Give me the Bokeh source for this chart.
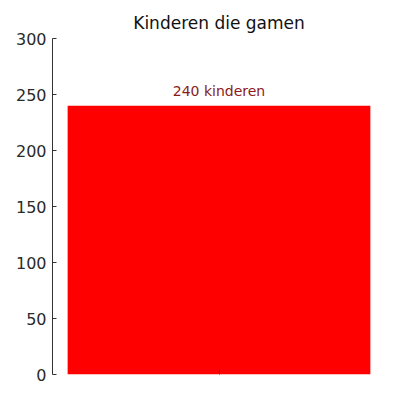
from bokeh.plotting import figure
from bokeh.models import Range1d, FixedTicker, ColumnDataSource
from bokeh.core.properties import value
from bokeh.embed import file_html
from bokeh.resources import INLINE

title = "Kinderen die gamen"
categories = ["Kinderen"]
counts = [240]
labels = ["240 kinderen"]
y_ticks = [0, 50, 100, 150, 200, 250, 300]

xs = list(range(len(categories)))
src = ColumnDataSource(dict(x=xs, top=counts, label=labels))

p = figure(width=400, height=400, output_backend="svg", toolbar_location=None,
           x_range=Range1d(-0.44, 0.44), y_range=Range1d(0, 300),
           min_border_left=52, min_border_right=15, min_border_top=38, min_border_bottom=26)
p.title.text = title
p.title.align = "center"
p.title.text_font = "DejaVu Sans"
p.title.text_font_size = "17px"
p.title.text_font_style = "normal"
p.title.text_color = "#111111"
p.title.standoff = 12

p.vbar(x="x", top="top", width=0.8, bottom=0, source=src, fill_color="#FF0000", line_color=None)
p.text(x="x", y="top", text="label", source=src, text_align="center", text_baseline="bottom",
       y_offset=-7, text_font=value("DejaVu Sans"), text_font_size="14px", text_color="#8B1A1A")

p.grid.visible = False
p.outline_line_color = None
p.background_fill_color = "white"
p.border_fill_color = "white"

ya = p.yaxis[0]
ya.ticker = FixedTicker(ticks=y_ticks)
ya.axis_line_color = "#333333"
ya.major_tick_line_color = "#333333"
ya.major_tick_in = 4
ya.major_tick_out = 0
ya.minor_tick_line_color = None
ya.major_label_text_font = "DejaVu Sans"
ya.major_label_text_font_size = "16px"
ya.major_label_text_color = "#2a2a2a"
ya.major_label_standoff = 6

xa = p.xaxis[0]
xa.ticker = FixedTicker(ticks=xs)
xa.axis_line_color = None
xa.major_tick_line_color = "#333333"
xa.major_tick_in = 5
xa.major_tick_out = 0
xa.minor_tick_line_color = None
xa.major_label_text_color = None
xa.major_label_text_font_size = "1px"

open("out.html", "w").write(file_html(p, INLINE))
